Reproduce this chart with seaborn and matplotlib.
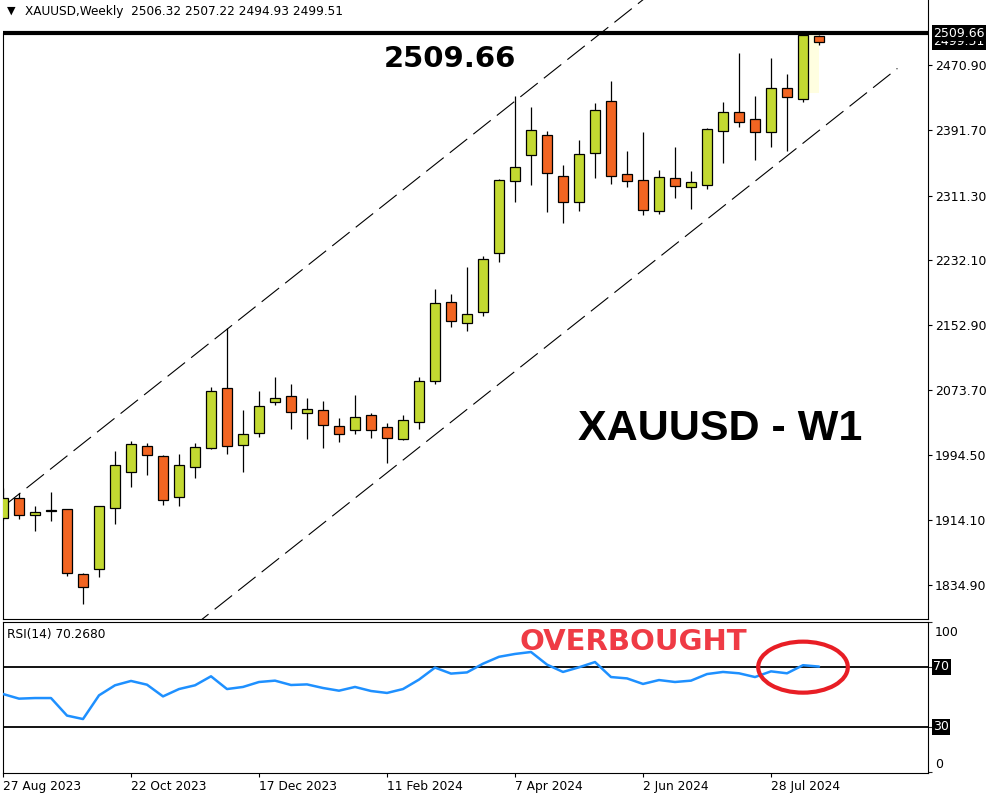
import matplotlib
matplotlib.use("Agg")
import matplotlib.pyplot as plt
import matplotlib.transforms as mtransforms
from matplotlib.patches import Ellipse, Rectangle
import numpy as np
import pandas as pd
import seaborn as sns

# ---------------- data ----------------
symbol = "XAUUSD"
timeframe = "Weekly"
opens = [1916.5, 1941.0, 1920.2, 1925.8, 1927.5, 1848.0, 1854.1, 1928.7, 1972.8, 2004.6,
         1992.3, 1942.2, 1978.9, 2002.1, 2075.5, 2005.8, 2020.5, 2058.4, 2065.7, 2044.9,
         2048.6, 2029.0, 2024.1, 2042.5, 2027.8, 2013.1, 2033.9, 2084.1, 2180.7, 2155.0,
         2168.4, 2240.6, 2328.7, 2360.5, 2384.9, 2334.8, 2303.0, 2362.9, 2426.5, 2337.2,
         2329.9, 2292.0, 2332.3, 2321.3, 2323.8, 2389.8, 2413.1, 2404.5, 2388.6, 2442.4,
         2429.0, 2506.32]
highs = [1953.2, 1947.1, 1931.6, 1948.3, 1928.5, 1850.0, 1931.5, 1998.8, 2011.1, 2008.9,
         1993.6, 1995.2, 2008.6, 2077.5, 2149.3, 2049.0, 2072.2, 2089.3, 2080.8, 2063.3,
         2060.0, 2038.8, 2067.3, 2045.3, 2032.7, 2042.5, 2089.3, 2196.9, 2190.5, 2223.5,
         2236.9, 2331.5, 2433.0, 2419.5, 2390.2, 2348.2, 2379.2, 2424.1, 2451.0, 2365.7,
         2388.6, 2342.1, 2370.2, 2340.9, 2393.5, 2425.6, 2485.2, 2432.6, 2479.1, 2459.5,
         2509.66, 2507.22]
lows = [1914.4, 1916.0, 1901.4, 1913.6, 1846.3, 1811.3, 1844.4, 1909.2, 1954.4, 1969.8,
        1933.2, 1931.9, 1966.2, 2001.5, 1994.8, 1973.5, 2016.3, 2054.7, 2025.4, 2013.9,
        2002.1, 2010.2, 2020.0, 2015.1, 1984.5, 2011.9, 2025.4, 2080.4, 2150.9, 2146.0,
        2164.3, 2229.6, 2303.7, 2324.5, 2291.5, 2278.0, 2292.7, 2333.1, 2325.7, 2321.3,
        2287.1, 2288.3, 2307.9, 2294.4, 2318.9, 2350.7, 2394.7, 2354.3, 2370.2, 2365.4,
        2425.3, 2494.93]
closes = [1941.0, 1920.2, 1923.9, 1925.8, 1849.2, 1832.1, 1931.2, 1981.3, 2007.0, 1993.6,
          1938.5, 1981.3, 2003.3, 2071.8, 2004.9, 2019.2, 2053.5, 2063.3, 2046.5, 2049.8,
          2030.3, 2019.2, 2040.0, 2024.1, 2014.4, 2036.4, 2084.1, 2179.5, 2157.4, 2166.0,
          2233.3, 2329.9, 2345.8, 2391.0, 2338.4, 2303.0, 2361.7, 2415.5, 2334.8, 2328.7,
          2293.2, 2333.6, 2322.6, 2327.4, 2392.3, 2413.1, 2400.8, 2388.6, 2442.4, 2431.4,
          2507.0, 2499.51]
rsi = [52.0, 48.9, 49.3, 49.3, 37.6, 35.3, 51.1, 57.8, 60.7, 58.2,
       50.4, 55.3, 57.8, 63.8, 55.3, 56.7, 60.0, 60.9, 58.0, 58.4,
       56.0, 54.2, 56.7, 54.0, 52.7, 55.3, 61.6, 69.6, 65.6, 66.4,
       72.2, 76.8, 78.7, 80.0, 71.6, 66.7, 69.8, 73.3, 63.3, 62.4,
       58.7, 61.3, 60.0, 60.9, 65.3, 66.7, 65.8, 63.3, 67.1, 65.8,
       71.2, 70.268]
date_labels = ["27 Aug 2023", "22 Oct 2023", "17 Dec 2023", "11 Feb 2024",
               "7 Apr 2024", "2 Jun 2024", "28 Jul 2024"]
date_tick_idx = [0, 8, 16, 24, 32, 40, 48]
price_ticks = [2470.90, 2391.70, 2311.30, 2232.10, 2152.90, 2073.70, 1994.50, 1914.10, 1834.90]
rsi_levels = [70, 30]
rsi_scale_labels = [100, 0]
resistance = 2509.66
channel_x = [0, 55.9]
channel_upper = [1930.7, 2797.2]
channel_lower = [1600.2, 2466.7]
highlight_x = [50.31, 51.0]
highlight_y = [2436.6, 2509.66]
ellipse_center = (50.0, 69.9)
ellipse_size = (5.6, 34.0)

# ---------------- style ----------------
sns.set_style("white")
plt.rcParams["font.family"] = ["DejaVu Sans"]

GREEN = "#C3D931"
ORANGE = "#F26522"
W, H = 1000, 800

def box(l, t, r, b):
    return [l / W, 1 - b / H, (r - l) / W, (b - t) / H]

fig = plt.figure(figsize=(10, 8), dpi=100)
fig.patch.set_facecolor("white")
ax = fig.add_axes(box(3, 0, 928, 619))
ax2 = fig.add_axes(box(3, 622, 928, 773))

df = pd.DataFrame({"open": opens, "high": highs, "low": lows, "close": closes, "rsi": rsi})
df["idx"] = np.arange(len(df))
df["bull"] = df["close"] >= df["open"]
df["body_lo"] = df[["open", "close"]].min(axis=1)
df["body_h"] = (df["close"] - df["open"]).abs().clip(lower=1.2)

# ---------------- main panel ----------------
ax.set_xlim(0, (928 - 3) / 16)
ax.set_ylim(1793.4, 2550.4)

ax.add_patch(Rectangle((highlight_x[0], highlight_y[0]), highlight_x[1] - highlight_x[0],
                       highlight_y[1] - highlight_y[0], facecolor="#FFFEE0", edgecolor="none", zorder=1))

ax.plot(channel_x, channel_upper, color="black", lw=0.8, linestyle=(0, (20, 7)), zorder=2)
ax.plot(channel_x, channel_lower, color="black", lw=0.8, linestyle=(0, (20, 7)), zorder=2)

ax.vlines(df["idx"], df["low"], df["high"], color="black", lw=0.9, zorder=3)
colors = [GREEN if b else ORANGE for b in df["bull"]]
ax.bar(df["idx"], df["body_h"], bottom=df["body_lo"], width=0.58, color=colors,
       edgecolor="black", linewidth=0.9, zorder=4)

ax.axhline(resistance, color="black", lw=3.0, zorder=5)

ax.yaxis.tick_right()
ax.set_yticks(price_ticks)
ax.set_yticklabels([f"{v:.2f}" for v in price_ticks])
ax.tick_params(axis="y", which="both", right=True, left=False, length=3, width=0.8,
               pad=2, labelsize=9, colors="black", direction="out")
ax.set_xticks([])
for s in ax.spines.values():
    s.set_color("black")
    s.set_linewidth(0.8)
ax.spines["top"].set_visible(False)
ax.spines["left"].set_bounds(1793.4, resistance)

trans = mtransforms.blended_transform_factory(ax.transAxes, ax.transData)
lx = 1 + 5 / 925
# bid price label, mostly hidden under the resistance label (as in the terminal)
ax.text(lx, closes[-1], f"{closes[-1]:.2f}", transform=trans, ha="left", va="center",
        fontsize=9, color="white", clip_on=False,
        bbox=dict(boxstyle="square,pad=0.12", fc="black", ec="none"), zorder=6)
ax.text(lx, resistance, f"{resistance:.2f}", transform=trans, ha="left", va="center",
        fontsize=9, color="white", clip_on=False,
        bbox=dict(boxstyle="square,pad=0.12", fc="black", ec="none"), zorder=7)

ax.text(27.94, 2468.8, f"{resistance:.2f}", ha="center", va="baseline",
        fontsize=21, fontweight="bold", color="black", family="DejaVu Sans", zorder=8)
ax.text(44.8, 2012.3, f"{symbol} - W1", ha="center", va="baseline",
        fontsize=31, fontweight="bold", color="black", family="Liberation Sans", zorder=8)

# ---------------- RSI panel ----------------
sns.lineplot(data=df, x="idx", y="rsi", ax=ax2, color="#1E90FF", lw=1.8, zorder=3)
ax2.set_xlim(0, (928 - 3) / 16)
ax2.set_ylim(-0.67, 100)
for lvl in rsi_levels:
    ax2.axhline(lvl, color="black", lw=1.3, zorder=2)

ax2.add_patch(Ellipse(ellipse_center, ellipse_size[0], ellipse_size[1], fill=False,
                      edgecolor="#E81E25", lw=3.0, zorder=5))
ax2.text(39.4, 81.5, "OVERBOUGHT", ha="center", va="baseline", fontsize=21,
         fontweight="bold", color="#EF3B45", zorder=6)

ax2.set_ylabel("")
ax2.set_xlabel("")
ax2.yaxis.tick_right()
ax2.set_yticks(rsi_scale_labels + rsi_levels)
ax2.set_yticklabels([])
ax2.tick_params(axis="y", right=True, left=False, length=3, width=0.8, direction="out")
ax2.set_xticks(date_tick_idx)
ax2.set_xticklabels(date_labels)
for lbl in ax2.get_xticklabels():
    lbl.set_ha("left")
ax2.tick_params(axis="x", bottom=True, length=3, width=0.8, pad=2, labelsize=8.8,
                colors="black", direction="out")
for s in ax2.spines.values():
    s.set_color("black")
    s.set_linewidth(0.8)

trans2 = mtransforms.blended_transform_factory(ax2.transAxes, ax2.transData)
for lvl in rsi_levels:
    ax2.text(lx, lvl, f"{lvl}", transform=trans2, ha="left", va="center", fontsize=9,
             color="white", clip_on=False,
             bbox=dict(boxstyle="square,pad=0.12", fc="black", ec="none"))
ax2.text(lx + 2 / 925, 93.3, "100", transform=trans2, ha="left", va="center", fontsize=9,
         color="black", clip_on=False)
ax2.text(lx + 2 / 925, 5.3, "0", transform=trans2, ha="left", va="center", fontsize=9,
         color="black", clip_on=False)
ax2.text(4 / 925, 0.92, f"RSI(14) {rsi[-1]:.4f}", transform=ax2.transAxes, ha="left",
         va="center", fontsize=8.7, color="black")

# ---------------- header ----------------
fig.text(7 / W, 1 - 11 / H, "\u25BC", fontsize=8, va="center", ha="left", color="black")
fig.text(25 / W, 1 - 12 / H,
         f"{symbol},{timeframe}  {opens[-1]:.2f} {highs[-1]:.2f} {lows[-1]:.2f} {closes[-1]:.2f}",
         fontsize=8.7, va="center", ha="left", color="black")

fig.savefig("out.png", dpi=100)
